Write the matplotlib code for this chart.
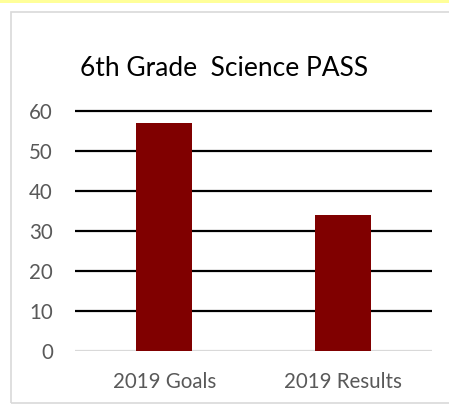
import matplotlib
matplotlib.use("Agg")
import matplotlib.pyplot as plt
from matplotlib.patches import Rectangle

categories = ["2019 Goals", "2019 Results"]
values = [57, 34]
yticks = [0, 10, 20, 30, 40, 50, 60]
title = "6th Grade  Science PASS"

plt.rcParams['font.family'] = ['Lato', 'DejaVu Sans']

W, H = 449, 415
fig = plt.figure(figsize=(W/100, H/100), dpi=100)
fig.patch.set_facecolor("white")

# top yellow strip
fig.add_artist(Rectangle((0, 1 - 3/H), 1, 3/H, transform=fig.transFigure,
                         facecolor="#FFFF99", edgecolor="none"))
# chart border
fig.add_artist(Rectangle((11/W, 1 - 403/H), 1.1, (403-12)/H, transform=fig.transFigure,
                         facecolor="none", edgecolor="#D9D9D9", linewidth=1.2))

left, right = 75/W, 432/W
bottom = 1 - 351/H
top = 1 - 107/H
ax = fig.add_axes([left, bottom, right-left, top-bottom])
ax.set_ylim(0, 61)
ax.set_xlim(-0.5, 1.5)

for y in yticks[1:]:
    ax.axhline(y, color="black", linewidth=1.6, zorder=1)
ax.axhline(0, color="#D9D9D9", linewidth=1.6, zorder=1)

x = list(range(len(categories)))
ax.bar(x, values, width=0.314, color="#800000", zorder=2)

ax.set_yticks(yticks)
ax.set_yticklabels([str(v) for v in yticks])
ax.set_xticks(x)
ax.set_xticklabels(categories)
ax.tick_params(axis='y', length=0, pad=16, labelsize=14.8, labelcolor="#595959")
ax.tick_params(axis='x', length=0, pad=15, labelsize=14.8, labelcolor="#595959")
for s in ax.spines.values():
    s.set_visible(False)

fig.text(80/W, 1 - 76.5/H, title, fontsize=19, color="black", va="baseline", ha="left")

fig.savefig("out.png", dpi=100)
